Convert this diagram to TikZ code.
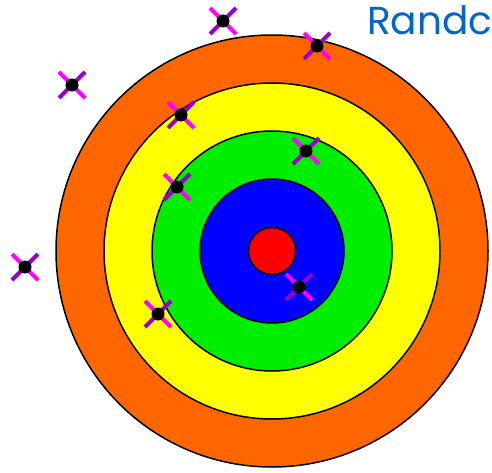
\documentclass[tikz,border=0pt]{standalone}
\usepackage{fontspec}
\newfontfamily\titlefont{Poppins}
\definecolor{ringorange}{RGB}{255,102,0}
\definecolor{ringyellow}{RGB}{255,255,0}
\definecolor{ringgreen}{RGB}{0,238,0}
\definecolor{ringblue}{RGB}{0,0,255}
\definecolor{ringred}{RGB}{255,0,0}
\definecolor{armpink}{RGB}{255,0,255}
\definecolor{armpurple}{RGB}{153,0,204}
\definecolor{titleblue}{RGB}{0,102,204}
\tikzset{
  ring/.style={draw=black, line width=1.5pt},
  armA/.style={draw=armpink, line width=4pt},
  armB/.style={draw=armpurple, line width=4pt},
  hitdot/.style={circle, fill=black, inner sep=0pt, minimum size=13pt},
  shot/.pic={
    \draw[armA] (-13,-13) -- (13,13);
    \draw[armB] (13,-13) -- (-13,13);
    \node[hitdot] (-dot) at (0,0) {};
  }
}
\begin{document}
\begin{tikzpicture}[x=1pt,y=-1pt]
\useasboundingbox (0,0) rectangle (492,473);
\clip (0,0) rectangle (492,473);
\fill[white] (0,0) rectangle (492,473);
\coordinate (c) at (272,251);
\draw[ring, fill=ringorange] (c) circle[radius=216];
\draw[ring, fill=ringyellow] (c) circle[radius=168];
\draw[ring, fill=ringgreen] (c) circle[radius=120];
\draw[ring, fill=ringblue] (c) circle[radius=72];
\draw[ring, fill=ringred] (c) circle[radius=23.5];
\pic (s1) at (223,21) {shot};
\pic (s2) at (317,46) {shot};
\pic (s3) at (72,85) {shot};
\pic (s4) at (181,115) {shot};
\pic (s5) at (306,151) {shot};
\pic (s6) at (177,187) {shot};
\pic (s7) at (25,267) {shot};
\pic (s8) at (299,287) {shot};
\pic (s9) at (158,314) {shot};
\node[anchor=base west, inner sep=0pt, text=titleblue, font=\titlefont\fontsize{39}{42}\selectfont] (title) at (367,35) {Randc};
\end{tikzpicture}
\end{document}
